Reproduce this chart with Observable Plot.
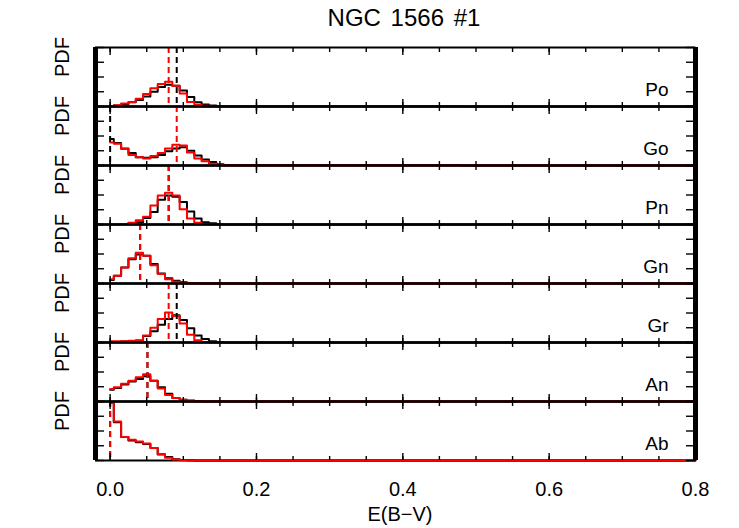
<!DOCTYPE html>
<html><head><meta charset="utf-8">
<script src="https://cdn.jsdelivr.net/npm/d3@7"></script>
<script src="https://cdn.jsdelivr.net/npm/@observablehq/plot@0.6"></script>
<style>
body{margin:0;background:#fff;}
#wrap{position:relative;width:739px;height:528px;font-family:"Liberation Sans",Arial,sans-serif;color:#000;overflow:hidden}
#title{position:absolute;top:6px;left:404px;transform:translateX(-50%);font-size:24px;line-height:1;white-space:nowrap;word-spacing:3px}
#xlabel{position:absolute;top:504px;left:400px;transform:translateX(-50%);font-size:20px;line-height:1;white-space:nowrap}
#chart{position:absolute;top:42px;left:0}
</style></head><body>
<div id="wrap"><div id="title">NGC 1566 #1</div><div id="chart"></div><div id="xlabel">E(B−V)</div></div>
<script>
// panel categories (top to bottom)
const panels = ["Po", "Go", "Pn", "Gn", "Gr", "An", "Ab"];
// histogram bin centres in E(B-V), last point closes the line at the axis end
const bins = [0, 0.01, 0.02, 0.03, 0.04, 0.05, 0.06, 0.07, 0.08, 0.09, 0.10, 0.11, 0.12, 0.13, 0.14, 0.15, 0.16, 0.8];

// PDF values (black and red histograms) per panel
const poBlack = [0.005,0.015,0.04,0.07,0.11,0.17,0.25,0.33,0.37,0.35,0.27,0.16,0.07,0.035,0.015,0.007,0.003,0];
const poRed   = [0.01,0.02,0.05,0.075,0.13,0.21,0.31,0.38,0.42,0.35,0.22,0.075,0.03,0.012,0.005,0,0,0];
const goBlack = [0.45,0.38,0.29,0.21,0.14,0.13,0.14,0.18,0.24,0.29,0.31,0.25,0.17,0.10,0.06,0.02,0.01,0];
const goRed   = [0.39,0.37,0.28,0.18,0.14,0.12,0.16,0.21,0.29,0.35,0.34,0.22,0.12,0.07,0.03,0.01,0,0];
const pnBlack = [0.005,0.005,0.01,0.02,0.04,0.11,0.21,0.42,0.49,0.47,0.38,0.22,0.10,0.04,0.02,0.005,0,0];
const pnRed   = [0.01,0.01,0.01,0.03,0.07,0.13,0.32,0.49,0.54,0.49,0.26,0.10,0.03,0.01,0,0,0,0];
const gnBlack = [0.06,0.13,0.27,0.41,0.49,0.47,0.33,0.17,0.09,0.045,0.02,0.01,0.005,0,0,0,0,0];
const gnRed   = [0.07,0.13,0.27,0.43,0.52,0.47,0.31,0.16,0.07,0.03,0.01,0.005,0,0,0,0,0,0];
const grBlack = [0.01,0.01,0.015,0.02,0.03,0.11,0.19,0.30,0.40,0.46,0.38,0.24,0.12,0.06,0.02,0.01,0,0];
const grRed   = [0.02,0.02,0.02,0.03,0.04,0.12,0.25,0.40,0.51,0.45,0.32,0.13,0.04,0.01,0,0,0,0];
const anBlack = [0.20,0.23,0.29,0.34,0.38,0.43,0.35,0.24,0.13,0.06,0.03,0.015,0.01,0,0,0,0,0];
const anRed   = [0.21,0.24,0.30,0.35,0.41,0.46,0.35,0.22,0.11,0.06,0.03,0.01,0,0,0,0,0,0];
const abBlack = [0.98,0.65,0.40,0.34,0.31,0.28,0.21,0.10,0.06,0.02,0.01,0.005,0,0,0,0,0,0];
const abRed   = [0.98,0.66,0.40,0.35,0.32,0.29,0.21,0.11,0.045,0.017,0.005,0,0,0,0,0,0,0];

// dashed marker positions (E(B-V)) per panel
const markBlack = [0.091, 0.0, 0.080, 0.041, 0.091, 0.051, 0.0];
const markRed   = [0.080, 0.091, 0.080, 0.041, 0.080, 0.051, 0.0];

// tick values
const minorTicks = [0,0.05,0.1,0.15,0.2,0.25,0.3,0.35,0.4,0.45,0.5,0.55,0.6,0.65,0.7,0.75,0.8];
const majorTicks = [0, 0.2, 0.4, 0.6, 0.8];
const yTicks = [0, 0.25, 0.5, 0.75, 1];
const xDomain = [-0.02, 0.8];
const yDomain = [0, 1];

const blacks = [poBlack, goBlack, pnBlack, gnBlack, grBlack, anBlack, abBlack];
const reds = [poRed, goRed, pnRed, gnRed, grRed, anRed, abRed];
const rows = [];
panels.forEach((p, k) => bins.forEach((x, i) => rows.push({panel: p, x, black: blacks[k][i], red: reds[k][i]})));
const marks = panels.map((p, k) => ({panel: p, black: markBlack[k], red: markRed[k]}));
// panel boundaries that are overdrawn in black (all but the lowest panel)
const innerPanels = panels.slice(0, -1);

const tickOpts = {stroke: "black", fill: "none", strokeWidth: 1.4, facetAnchor: null, label: null};

const chart = Plot.plot({
  width: 739, height: 456,
  marginTop: 3, marginBottom: 36, marginLeft: 95, marginRight: 44,
  style: {fontFamily: "Liberation Sans, Arial, sans-serif", background: "white", color: "black", overflow: "visible"},
  x: {domain: xDomain},
  y: {domain: yDomain},
  fy: {domain: panels, padding: 0, axis: null, label: null},
  marks: [
    Plot.ruleY([yDomain[0]], {stroke: "black", strokeWidth: 2}),
    Plot.lineY(rows, {fy: "panel", x: "x", y: "black", curve: "step", stroke: "black", strokeWidth: 2}),
    Plot.lineY(rows, {fy: "panel", x: "x", y: "red", curve: "step", stroke: "#ff0000", strokeWidth: 2}),
    Plot.ruleX(marks, {fy: "panel", x: "black", stroke: "black", strokeWidth: 2, strokeDasharray: "6,4"}),
    Plot.ruleX(marks, {fy: "panel", x: "red", stroke: "#ff0000", strokeWidth: 2, strokeDasharray: "6,4"}),
    Plot.ruleY(innerPanels, {fy: d => d, y: () => yDomain[0], stroke: "black", strokeWidth: 2.2}),
    Plot.ruleY([yDomain[1]], {stroke: "black", strokeWidth: 2}),
    Plot.ruleX([xDomain[0]], {stroke: "black", strokeWidth: 5}),
    Plot.ruleX([xDomain[1]], {stroke: "black", strokeWidth: 5}),
    Plot.axisX(minorTicks, {...tickOpts, anchor: "bottom", tickSize: -4}),
    Plot.axisX(minorTicks, {...tickOpts, anchor: "top", tickSize: -4}),
    Plot.axisX(majorTicks, {...tickOpts, anchor: "bottom", tickSize: -7}),
    Plot.axisX(majorTicks, {...tickOpts, anchor: "top", tickSize: -7}),
    Plot.axisY(yTicks, {...tickOpts, anchor: "left", tickSize: -9}),
    Plot.axisY(yTicks, {...tickOpts, anchor: "right", tickSize: -10}),
    Plot.axisX(majorTicks, {anchor: "bottom", tickSize: 0, tickPadding: 21, tickFormat: ".1f", fontSize: 20, label: null}),
    Plot.text(panels, {fy: d => d, text: d => d, frameAnchor: "bottom-right", dx: -27, dy: -17, textAnchor: "end", lineAnchor: "middle", fontSize: 19}),
    Plot.text(panels, {fy: d => d, text: () => "PDF", frameAnchor: "left", dx: -33, rotate: -90, fontSize: 20})
  ]
});
document.getElementById("chart").appendChild(chart);
</script>
</body></html>
